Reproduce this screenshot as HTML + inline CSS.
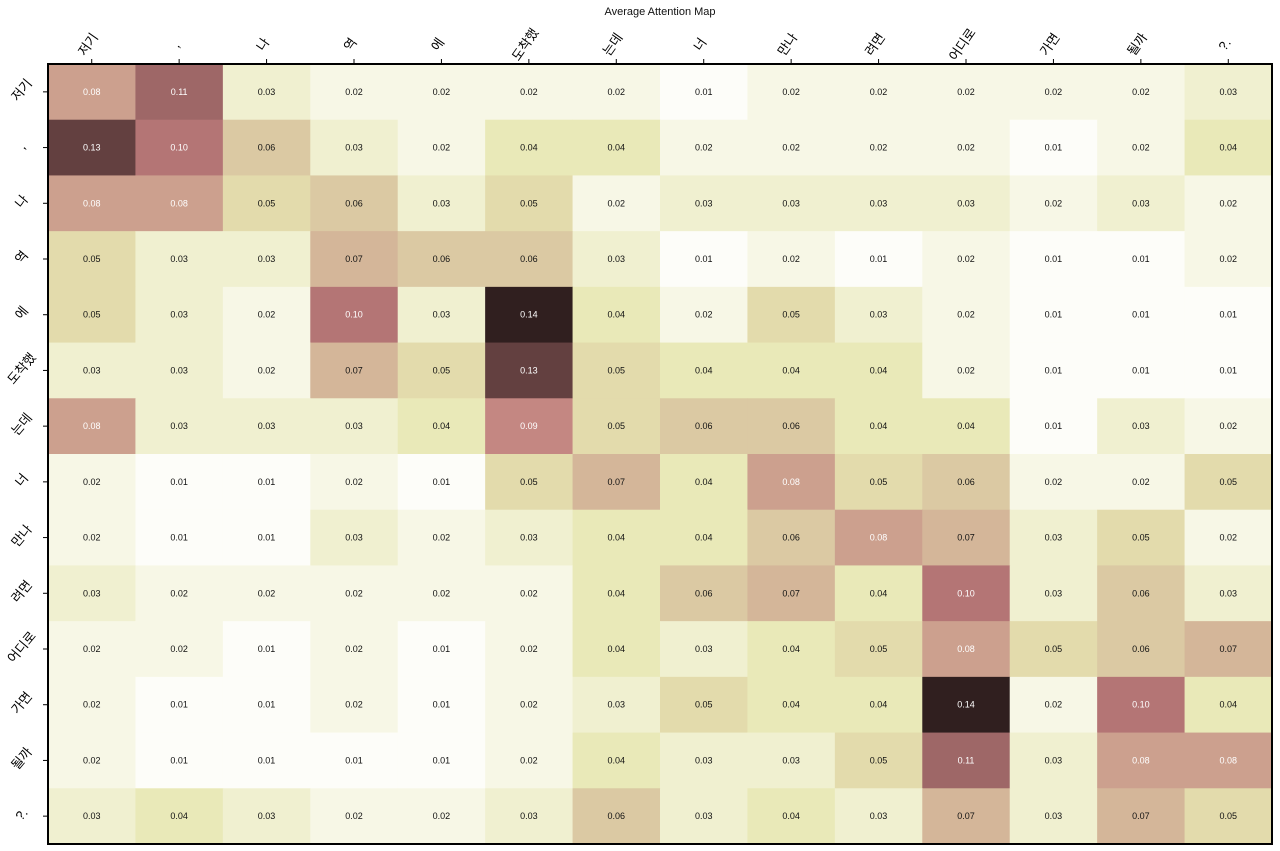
<!DOCTYPE html>
<html><head><meta charset="utf-8"><style>
html,body{margin:0;padding:0;background:#fff;}
svg{display:block;font-family:"Liberation Sans","Noto Sans CJK KR",sans-serif;}
</style></head><body>
<svg id="chart" width="1280" height="851" viewBox="0 0 1280 851">
<text x="660" y="15" text-anchor="middle" font-size="11" fill="#111">Average Attention Map</text>
<g id="cells"></g>
<g id="xt"></g>
<g id="yt"></g>
<rect x="48" y="64" width="1224" height="780" fill="none" stroke="#000" stroke-width="2"/>
</svg>
<script>
const xLabels = ["저기", ",", "나", "역", "에", "도착했", "는데", "너", "만나", "려면", "어디로", "가면", "될까", "?."];
const yLabels = ["저기", ",", "나", "역", "에", "도착했", "는데", "너", "만나", "려면", "어디로", "가면", "될까", "?."];
const row0 = [.08,.11,.03,.02,.02,.02,.02,.01,.02,.02,.02,.02,.02,.03];
const row1 = [.13,.10,.06,.03,.02,.04,.04,.02,.02,.02,.02,.01,.02,.04];
const row2 = [.08,.08,.05,.06,.03,.05,.02,.03,.03,.03,.03,.02,.03,.02];
const row3 = [.05,.03,.03,.07,.06,.06,.03,.01,.02,.01,.02,.01,.01,.02];
const row4 = [.05,.03,.02,.10,.03,.14,.04,.02,.05,.03,.02,.01,.01,.01];
const row5 = [.03,.03,.02,.07,.05,.13,.05,.04,.04,.04,.02,.01,.01,.01];
const row6 = [.08,.03,.03,.03,.04,.09,.05,.06,.06,.04,.04,.01,.03,.02];
const row7 = [.02,.01,.01,.02,.01,.05,.07,.04,.08,.05,.06,.02,.02,.05];
const row8 = [.02,.01,.01,.03,.02,.03,.04,.04,.06,.08,.07,.03,.05,.02];
const row9 = [.03,.02,.02,.02,.02,.02,.04,.06,.07,.04,.10,.03,.06,.03];
const row10 = [.02,.02,.01,.02,.01,.02,.04,.03,.04,.05,.08,.05,.06,.07];
const row11 = [.02,.01,.01,.02,.01,.02,.03,.05,.04,.04,.14,.02,.10,.04];
const row12 = [.02,.01,.01,.01,.01,.02,.04,.03,.03,.05,.11,.03,.08,.08];
const row13 = [.03,.04,.03,.02,.02,.03,.06,.03,.04,.03,.07,.03,.07,.05];
const values = [row0,row1,row2,row3,row4,row5,row6,row7,row8,row9,row10,row11,row12,row13];

const X0=48, Y0=64, W=1224, H=780;
const cw = W/xLabels.length, ch = H/yLabels.length;
const xPos = i => X0 + i*cw;
const yPos = j => Y0 + j*ch;
const vmax = Math.max(...values.flat()) + 0.003;
const vmin = 0.007;
function clip(v){return Math.max(0,Math.min(1,v));}
function color(v){
  const t = clip((v-vmin)/(vmax-vmin)); const x = 1 - t;
  const hr = clip(x/0.365079), hg = clip((x-0.365079)/(0.746032-0.365079)), hb = clip((x-0.746032)/(1-0.746032));
  const f = h => Math.round(255*Math.sqrt(2/3*x + 1/3*h));
  return `rgb(${f(hr)},${f(hg)},${f(hb)})`;
}
const NS="http://www.w3.org/2000/svg";
const cells=document.getElementById('cells');
values.forEach((row,j)=>row.forEach((v,i)=>{
  const r=document.createElementNS(NS,'rect');
  
  
  r.setAttribute('x',xPos(i));r.setAttribute('y',yPos(j));
  r.setAttribute('width',cw+0.5);r.setAttribute('height',ch+0.5);
  r.setAttribute('fill',color(v));
  cells.appendChild(r);
  const t=document.createElementNS(NS,'text');
  
  
  t.setAttribute('x',xPos(i)+cw/2);t.setAttribute('y',yPos(j)+ch/2+3);
  t.setAttribute('text-anchor','middle');t.setAttribute('font-size','9');
  t.setAttribute('fill', (v-vmin)/(vmax-vmin)>0.5?'#fff':'#111');
  t.textContent=v.toFixed(2);
  cells.appendChild(t);
}));
const xt=document.getElementById('xt');
xLabels.forEach((l,i)=>{
  const cx=xPos(i)+cw/2;
  const ln=document.createElementNS(NS,'line');
  
  
  ln.setAttribute('x1',cx);ln.setAttribute('x2',cx);ln.setAttribute('y1',59);ln.setAttribute('y2',64);
  ln.setAttribute('stroke','#000');
  xt.appendChild(ln);
  const t=document.createElementNS(NS,'text');
  
  
  t.setAttribute('transform',`translate(${cx},${47}) rotate(-55)`);
  t.setAttribute('text-anchor','middle');
  t.setAttribute('font-size','13');t.setAttribute('fill','#000');
  t.textContent=l;
  xt.appendChild(t);
});
const yt=document.getElementById('yt');
yLabels.forEach((l,j)=>{
  const cy=yPos(j)+ch/2;
  const ln=document.createElementNS(NS,'line');
  
  
  ln.setAttribute('x1',43);ln.setAttribute('x2',48);ln.setAttribute('y1',cy);ln.setAttribute('y2',cy);
  ln.setAttribute('stroke','#000');
  yt.appendChild(ln);
  const t=document.createElementNS(NS,'text');
  
  
  t.setAttribute('transform',`translate(${25},${cy+1}) rotate(-50)`);
  t.setAttribute('text-anchor','middle');
  t.setAttribute('font-size','13');t.setAttribute('fill','#000');
  t.textContent=l;
  yt.appendChild(t);
});
</script>
</body></html>
